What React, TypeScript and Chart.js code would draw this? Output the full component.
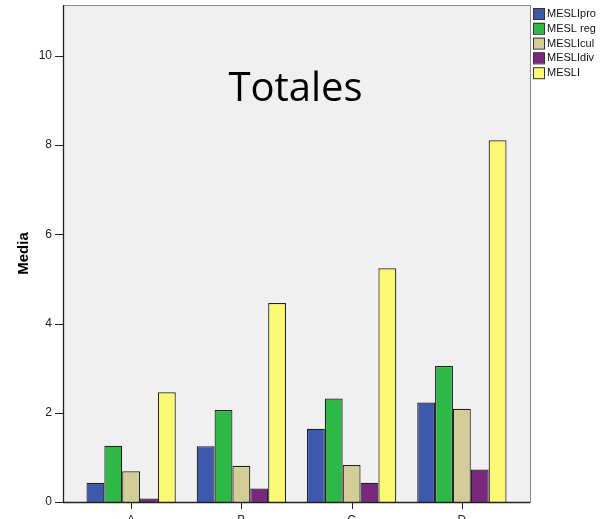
import React, { useEffect, useRef } from "react";
import { Chart, registerables } from "chart.js";

Chart.register(...registerables);

const categories = ["A", "B", "C", "D"];
const seriesNames = ["MESLIpro", "MESL reg", "MESLIcul", "MESLIdiv", "MESLI"];
const meslipro = [0.43, 1.25, 1.64, 2.23];
const meslReg = [1.26, 2.06, 2.32, 3.05];
const meslicul = [0.69, 0.81, 0.83, 2.09];
const meslidiv = [0.08, 0.3, 0.43, 0.73];
const mesli = [2.46, 4.46, 5.24, 8.11];
const seriesColors = ["#3E58AC", "#2EB848", "#D3CE97", "#79287D", "#FBF873"];
const yTicks = [0, 2, 4, 6, 8, 10];
const yTitle = "Media";
const chartTitle = "Totales";

const FRAME_PAD = 13;

const framePlugin = {
  id: "framePlugin",
  beforeDatasetsDraw(chart: any) {
    const { ctx, chartArea } = chart;
    const l = chartArea.left - FRAME_PAD;
    const r = chartArea.right + FRAME_PAD;
    const t = chartArea.top;
    const b = chartArea.bottom;
    ctx.save();
    ctx.fillStyle = "#F0F0F0";
    ctx.fillRect(l, t, r - l, b - t);
    ctx.strokeStyle = "#8a8a8a";
    ctx.lineWidth = 1;
    ctx.beginPath();
    ctx.moveTo(l, t + 0.5);
    ctx.lineTo(r + 0.5, t + 0.5);
    ctx.lineTo(r + 0.5, b);
    ctx.stroke();
    // title inside plot
    ctx.fillStyle = "#000";
    ctx.font = "40px 'Open Sans', sans-serif";
    ctx.textAlign = "center";
    ctx.textBaseline = "alphabetic";
    ctx.fillText(chartTitle, (l + r) / 2 - 1, 101);
    ctx.restore();
  },
  afterDatasetsDraw(chart: any) {
    const { ctx, chartArea, scales } = chart;
    const l = chartArea.left - FRAME_PAD;
    const r = chartArea.right + FRAME_PAD;
    const t = chartArea.top;
    const b = chartArea.bottom;
    ctx.save();
    ctx.strokeStyle = "#222";
    ctx.lineWidth = 1.3;
    ctx.beginPath();
    ctx.moveTo(l + 0.5, t);
    ctx.lineTo(l + 0.5, b + 0.5);
    ctx.lineTo(r + 0.5, b + 0.5);
    ctx.stroke();
    // y ticks
    ctx.lineWidth = 1;
    ctx.beginPath();
    yTicks.forEach((v) => {
      const y = Math.round(scales.y.getPixelForValue(v)) + 0.5;
      ctx.moveTo(l - 8, y);
      ctx.lineTo(l, y);
    });
    // x ticks
    categories.forEach((_c, i) => {
      const x = Math.round(scales.x.getPixelForValue(i)) + 0.5;
      ctx.moveTo(x, b);
      ctx.lineTo(x, b + 7);
    });
    ctx.stroke();
    // legend
    ctx.font = "11px 'Liberation Sans', Arial, sans-serif";
    ctx.textAlign = "left";
    ctx.textBaseline = "middle";
    chart.data.datasets.forEach((ds: any, i: number) => {
      const cy = 14 + i * 14.8;
      ctx.fillStyle = ds.backgroundColor;
      ctx.fillRect(533, cy - 6, 11, 11);
      ctx.strokeStyle = "#333";
      ctx.lineWidth = 1;
      ctx.strokeRect(533.5, cy - 5.5, 11, 11);
      ctx.fillStyle = "#111";
      ctx.fillText(ds.label, 547, cy);
    });
    ctx.restore();
  },
};

export default function App() {
  const ref = useRef<HTMLCanvasElement>(null);
  useEffect(() => {
    const values = [meslipro, meslReg, meslicul, meslidiv, mesli];
    const chart = new Chart(ref.current!, {
      type: "bar",
      data: {
        labels: categories,
        datasets: values.map((d, i) => ({
          label: seriesNames[i],
          data: d,
          backgroundColor: seriesColors[i],
          borderColor: "#222",
          borderWidth: 1.2,
          borderSkipped: "bottom",
          categoryPercentage: 0.81,
          barPercentage: 1,
        })),
      },
      options: {
        animation: false,
        responsive: false,
        maintainAspectRatio: false,
        layout: { padding: { top: 5, right: 85, left: 0, bottom: 0 } },
        plugins: { legend: { display: false }, tooltip: { enabled: false }, title: { display: false } },
        scales: {
          x: {
            grid: { display: false, drawTicks: false },
            border: { display: false },
            ticks: {
              color: "#222",
              padding: 11,
              font: { family: "'Liberation Sans', Arial, sans-serif", size: 12 },
            },
            afterFit: (s: any) => {
              s.height = 17;
              s.paddingLeft = 0;
              s.paddingRight = 0;
            },
          },
          y: {
            min: 0,
            max: 11.14,
            afterBuildTicks: (s: any) => {
              s.ticks = yTicks.map((v) => ({ value: v }));
            },
            grid: { display: false, drawTicks: false },
            border: { display: false },
            ticks: {
              color: "#222",
              padding: 24,
              font: { family: "'Liberation Sans', Arial, sans-serif", size: 12 },
            },
            title: {
              display: true,
              text: yTitle,
              color: "#000",
              font: { family: "'Liberation Sans', Arial, sans-serif", size: 15, weight: "bold" },
              padding: 15,
            },
            afterFit: (s: any) => {
              s.width = 76;
              s.paddingTop = 0;
              s.paddingBottom = 0;
            },
          },
        },
      },
      plugins: [framePlugin],
    });
    return () => chart.destroy();
  }, []);
  return (
    <div style={{ position: "fixed", left: 0, top: 0, width: 602, height: 519, background: "#fff" }}>
      <canvas ref={ref} width={602} height={519} style={{ width: 602, height: 519 }} />
    </div>
  );
}
